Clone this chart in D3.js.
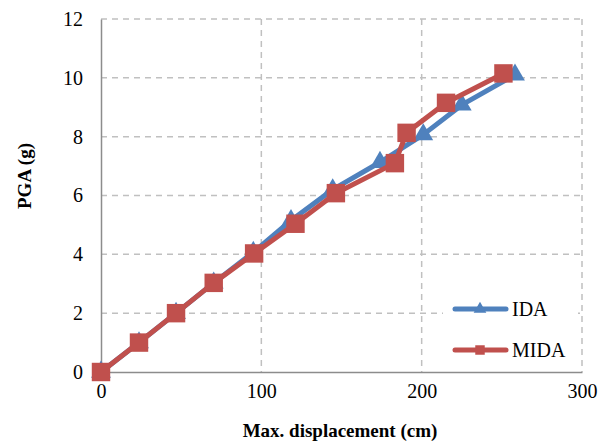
<!DOCTYPE html>
<meta charset="utf-8">
<script src="https://d3js.org/d3.v7.min.js"></script>
<style>
  body { margin: 0; background: #fff; }
  svg text { font-family: 'Liberation Serif', 'Times New Roman', serif !important; fill: #000; }
</style>
<div id="my_dataviz"></div>
<script>
    // data
    var seriesNames = ["IDA", "MIDA"];
    var idaX = [0, 23.7, 46.8, 70.3, 95, 118.5, 144.5, 174, 201, 225, 258.2];
    var idaY = [0, 1.0, 2.0, 3.03, 4.07, 5.15, 6.2, 7.13, 8.07, 9.08, 10.1];
    var midaX = [0, 23.7, 46.8, 70.3, 95.5, 121.3, 146.5, 183.3, 190.6, 215.2, 251];
    var midaY = [0, 1.0, 2.0, 3.03, 4.03, 5.04, 6.08, 7.1, 8.13, 9.15, 10.15];
    var xTicks = [0, 100, 200, 300];
    var yTicks = [0, 2, 4, 6, 8, 10, 12];
    var colors = ["#4F81BD", "#C0504D"];

    var margin = {top: 19, right: 26, bottom: 72, left: 101},
        width = 608 - margin.left - margin.right,
        height = 444 - margin.top - margin.bottom;

    var svg = d3.select("#my_dataviz")
        .append("svg")
        .attr("width", 608)
        .attr("height", 444);
    var g = svg.append("g")
        .attr("transform", "translate(" + margin.left + "," + margin.top + ")");

    var x = d3.scaleLinear().domain([0, 300]).range([0, width]);
    var y = d3.scaleLinear().domain([0, 12]).range([height, 0]);

    // dashed grid
    g.selectAll(".hgrid")
        .data(yTicks.filter(function(d) { return d > 0; }))
        .enter().append("line")
        .attr("x1", 0).attr("x2", width)
        .attr("y1", function(d) { return y(d); })
        .attr("y2", function(d) { return y(d); })
        .attr("stroke", "#c0c0c0").attr("stroke-width", 1.5)
        .attr("stroke-dasharray", "6,5");
    g.selectAll(".vgrid")
        .data(xTicks.filter(function(d) { return d > 0; }))
        .enter().append("line")
        .attr("y1", 0).attr("y2", height)
        .attr("x1", function(d) { return x(d); })
        .attr("x2", function(d) { return x(d); })
        .attr("stroke", "#c0c0c0").attr("stroke-width", 1.5)
        .attr("stroke-dasharray", "6,5");

    // axes
    var xAxis = g.append("g")
        .attr("transform", "translate(0," + height + ")")
        .call(d3.axisBottom(x).tickValues(xTicks).tickSize(0).tickPadding(12));
    var yAxis = g.append("g")
        .call(d3.axisLeft(y).tickValues(yTicks).tickSize(0).tickPadding(18));
    [xAxis, yAxis].forEach(function(a) {
        a.attr("font-family", "Liberation Serif").attr("font-size", 20);
        a.select(".domain").attr("stroke", "#8c8c8c").attr("stroke-width", 1.5);
        a.selectAll("text").attr("fill", "#000");
    });

    // lines and markers
    var series = [
        {name: seriesNames[0], xs: idaX, ys: idaY, color: colors[0], shape: d3.symbolTriangle},
        {name: seriesNames[1], xs: midaX, ys: midaY, color: colors[1], shape: d3.symbolSquare}
    ];
    var line = d3.line()
        .x(function(d) { return x(d[0]); })
        .y(function(d) { return y(d[1]); });

    series.forEach(function(s) {
        var pts = s.xs.map(function(v, i) { return [v, s.ys[i]]; });
        g.append("path")
            .datum(pts)
            .attr("fill", "none")
            .attr("stroke", s.color)
            .attr("stroke-width", 5)
            .attr("stroke-linejoin", "round")
            .attr("d", line);
        g.selectAll(".m" + s.name)
            .data(pts)
            .enter().append("path")
            .attr("transform", function(d) { return "translate(" + x(d[0]) + "," + y(d[1]) + ")"; })
            .attr("d", d3.symbol().type(s.shape).size(s.shape === d3.symbolSquare ? 340 : 170))
            .attr("fill", s.color);
    });

    // legend
    var leg = g.append("g").attr("transform", "translate(" + (443 - margin.left) + "," + (287 - margin.top) + ")");
    leg.append("rect")
        .attr("width", 135).attr("height", 83)
        .attr("fill", "#fff");
    series.forEach(function(s, i) {
        var ly = 22 + i * 41;
        leg.append("line")
            .attr("x1", 12).attr("x2", 63)
            .attr("y1", ly).attr("y2", ly)
            .attr("stroke", s.color).attr("stroke-width", 5)
            .attr("stroke-linecap", "round");
        leg.append("path")
            .attr("transform", "translate(37," + ly + ")")
            .attr("d", d3.symbol().type(s.shape).size(s.shape === d3.symbolSquare ? 90 : 70))
            .attr("fill", s.color);
        leg.append("text")
            .attr("x", 69).attr("y", ly + 7)
            .style("font-size", "20px")
            .text(s.name);
    });

    // axis titles
    svg.append("text")
        .attr("x", 340).attr("y", 437)
        .attr("text-anchor", "middle")
        .style("font-size", "19px").style("font-weight", "bold")
        .text("Max. displacement (cm)");
    svg.append("text")
        .attr("transform", "translate(31,176) rotate(-90)")
        .attr("text-anchor", "middle")
        .style("font-size", "19px").style("font-weight", "bold")
        .text("PGA (g)");
</script>
